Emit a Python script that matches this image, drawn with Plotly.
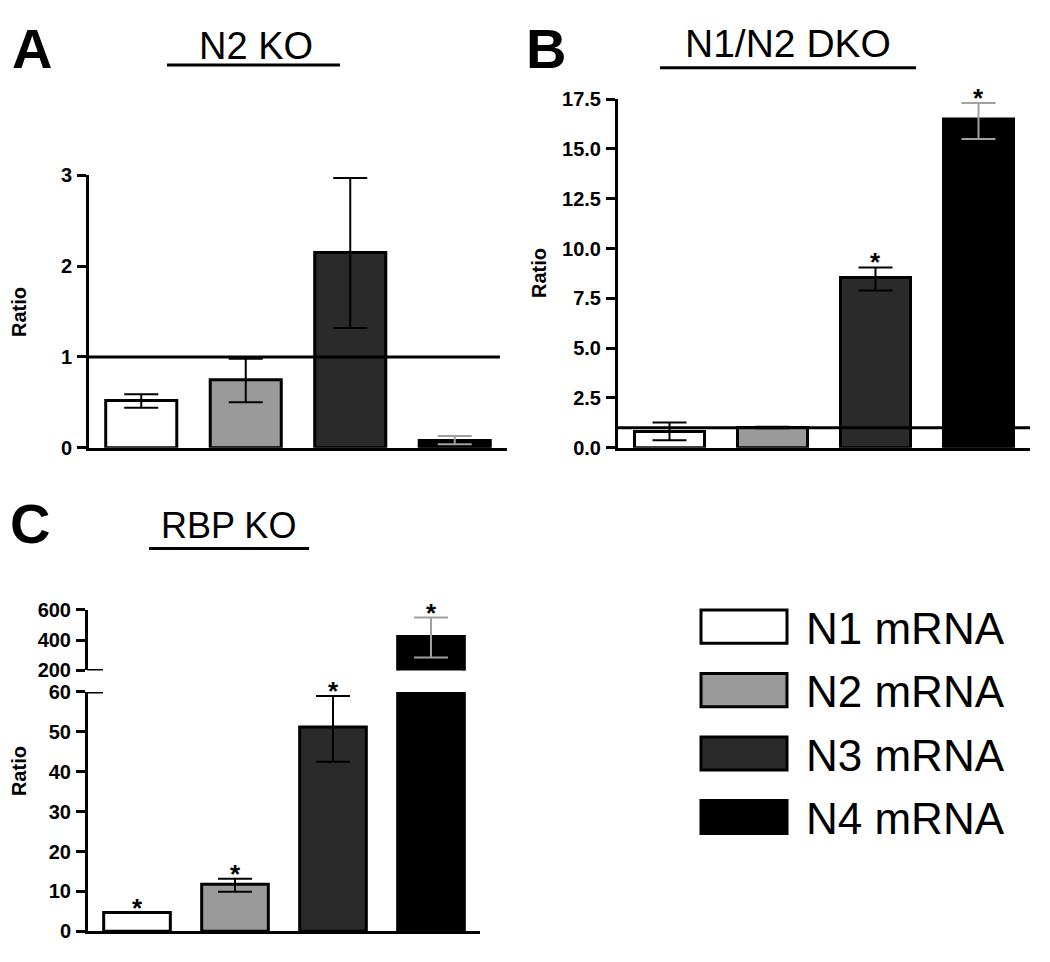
import plotly.graph_objects as go

# ---------------- data ----------------
categories = ["N1 mRNA", "N2 mRNA", "N3 mRNA", "N4 mRNA"]
fills = ["#ffffff", "#9a9a9a", "#2a2a2a", "#000000"]
err_colors = ["#000000", "#000000", "#000000", "#a0a0a0"]

# Panel A: N2 KO
a_values = [0.52, 0.75, 2.15, 0.08]
a_low = [0.44, 0.50, 1.32, 0.04]
a_high = [0.59, 0.98, 2.97, 0.13]

# Panel B: N1/N2 DKO
b_values = [0.82, 1.02, 8.55, 16.5]
b_low = [0.38, 0.98, 7.90, 15.5]
b_high = [1.27, 1.06, 9.05, 17.3]
b_sig = [False, False, True, True]

# Panel C: RBP KO (broken axis)
c_values = [4.7, 11.8, 51.2, 425.0]
c_low = [None, 9.9, 42.5, 285.0]
c_high = [None, 13.2, 59.0, 550.0]
c_sig = [True, True, True, True]
c_lower_range = [0, 60]
c_upper_range = [200, 600]

# page body has an 8px margin on every side; keep the page exactly window-sized
OFF = 8
W, H = 1050 - 2 * OFF, 962 - 2 * OFF
FONT = "Arial, Liberation Sans, sans-serif"


def px(x):
    return (x - OFF) / W


def py(y):
    return 1 - (y - OFF) / H


fig = go.Figure()


def add_bars(vals, lows, highs, xa, ya, err_visible=None):
    for i in range(4):
        has_err = lows[i] is not None and (err_visible is None or err_visible[i])
        err = dict(visible=False)
        if has_err:
            err = dict(type="data", symmetric=False,
                       array=[highs[i] - vals[i]], arrayminus=[vals[i] - lows[i]],
                       color=err_colors[i], thickness=2, width=17, visible=True)
        fig.add_trace(go.Bar(
            x=[i], y=[vals[i]], width=0.68, name=categories[i],
            marker=dict(color=fills[i], line=dict(color="black", width=3)),
            error_y=err, xaxis=xa, yaxis=ya, showlegend=False, hoverinfo="skip"))


add_bars(a_values, a_low, a_high, "x", "y")
add_bars(b_values, b_low, b_high, "x2", "y2")
add_bars(c_values, c_low, c_high, "x3", "y3", err_visible=[True, True, True, False])
add_bars(c_values, c_low, c_high, "x4", "y4", err_visible=[False, False, False, True])

tickfont = dict(family=FONT, size=20, color="black", weight="bold")
xcommon = dict(range=[-0.5, 3.5], showline=True, linecolor="black", linewidth=3,
               showticklabels=False, ticks="", showgrid=False, zeroline=False, fixedrange=True)
ycommon = dict(showline=True, linecolor="black", linewidth=3, ticks="outside",
               ticklen=9, tickwidth=3, tickcolor="black", showgrid=False, zeroline=False,
               tickfont=tickfont, ticklabelstandoff=1, fixedrange=True)

fig.update_layout(
    width=W, height=H, margin=dict(l=0, r=0, t=0, b=0),
    paper_bgcolor="white", plot_bgcolor="rgba(0,0,0,0)",
    barmode="overlay", showlegend=False,
    xaxis=dict(domain=[px(89), px(507)], anchor="y", **xcommon),
    yaxis=dict(domain=[py(447), py(168)], anchor="x", range=[0, 3],
               tickvals=[0, 1, 2, 3], **ycommon),
    xaxis2=dict(domain=[px(618), px(1030)], anchor="y2", **xcommon),
    yaxis2=dict(domain=[py(447), py(90)], anchor="x2", range=[0, 17.5],
                tickvals=[0, 2.5, 5, 7.5, 10, 12.5, 15, 17.5], tickformat=".1f", **ycommon),
    xaxis3=dict(domain=[px(88), px(480)], anchor="y3", **xcommon),
    yaxis3=dict(domain=[py(942), py(697)], anchor="x3", range=c_lower_range,
                tickvals=[0, 10, 20, 30, 40, 50, 60], **ycommon),
    xaxis4=dict(domain=[px(88), px(480)], anchor="y4", range=[-0.5, 3.5], visible=False,
                fixedrange=True),
    yaxis4=dict(domain=[py(675), py(613)], anchor="x4", range=c_upper_range,
                tickvals=[200, 400, 600], **ycommon),
)

shapes = []
annotations = []

# reference lines at ratio = 1
shapes.append(dict(type="line", xref="x domain", yref="y", x0=0, x1=0.983, y0=1, y1=1,
                   line=dict(color="black", width=3), layer="above"))
shapes.append(dict(type="line", xref="x2 domain", yref="y2", x0=0, x1=1, y0=1, y1=1,
                   line=dict(color="black", width=3), layer="above"))

# axis-break marks on panel C
shapes.append(dict(type="line", xref="paper", yref="y4", x0=px(87), x1=px(103),
                   y0=c_upper_range[0], y1=c_upper_range[0],
                   line=dict(color="black", width=3)))
shapes.append(dict(type="line", xref="paper", yref="y3", x0=px(87), x1=px(103),
                   y0=c_lower_range[1], y1=c_lower_range[1],
                   line=dict(color="black", width=3)))

# panel titles, underlines, letters
titles = [("N2 KO", 256, 36, 38, 167, 340, 55),
          ("N1/N2 DKO", 788, 33, 39, 660, 916, 58),
          ("RBP KO", 228, 527, 36, 149, 309, 550)]
for text, cx, cy, fs, ux0, ux1, uy in titles:
    annotations.append(dict(text=text, x=px(cx), y=py(cy), xref="paper", yref="paper",
                            xanchor="center", yanchor="middle", showarrow=False,
                            font=dict(family=FONT, size=fs, color="black")))
    shapes.append(dict(type="line", xref="paper", yref="paper", x0=px(ux0), x1=px(ux1),
                       y0=py(uy), y1=py(uy), line=dict(color="black", width=3)))

for letter, cx, cy in [("A", 32, 38), ("B", 546, 38), ("C", 30, 524)]:
    annotations.append(dict(text=letter, x=px(cx), y=py(cy), xref="paper", yref="paper",
                            xanchor="center", yanchor="middle", showarrow=False,
                            font=dict(family=FONT, size=56, color="black", weight="bold")))

# y-axis titles
for cx, cy in [(19, 308), (539, 268), (19, 778)]:
    annotations.append(dict(text="Ratio", x=px(cx), y=py(cy), xref="paper", yref="paper",
                            xanchor="center", yanchor="middle", textangle=-90, showarrow=False,
                            font=dict(family=FONT, size=20, color="black", weight="bold")))


# significance asterisks
def star(i, top, xa, ya):
    annotations.append(dict(text="*", x=i, y=top, xref=xa, yref=ya,
                            xanchor="center", yanchor="bottom", yshift=-12, showarrow=False,
                            font=dict(family=FONT, size=26, color="black", weight="bold")))


for i in range(4):
    if b_sig[i]:
        star(i, b_high[i] if b_high[i] is not None else b_values[i], "x2", "y2")
for i in range(4):
    if c_sig[i]:
        top = c_high[i] if c_high[i] is not None else c_values[i]
        if i < 3:
            star(i, top, "x3", "y3")
        else:
            star(i, top, "x4", "y4")

# legend (drawn manually: large boxes + labels)
legend_rows = [630, 695, 760, 825]
for i, cy in enumerate(legend_rows):
    shapes.append(dict(type="rect", xref="paper", yref="paper",
                       x0=px(701), x1=px(787), y0=py(cy + 17), y1=py(cy - 17),
                       fillcolor=fills[i], line=dict(color="black", width=3)))
    annotations.append(dict(text=categories[i], x=px(804), y=py(cy + 2), xref="paper",
                            yref="paper", xanchor="left", yanchor="middle", showarrow=False,
                            font=dict(family=FONT, size=44, color="black")))

fig.update_layout(shapes=shapes, annotations=annotations)
fig.write_html("out.html")
